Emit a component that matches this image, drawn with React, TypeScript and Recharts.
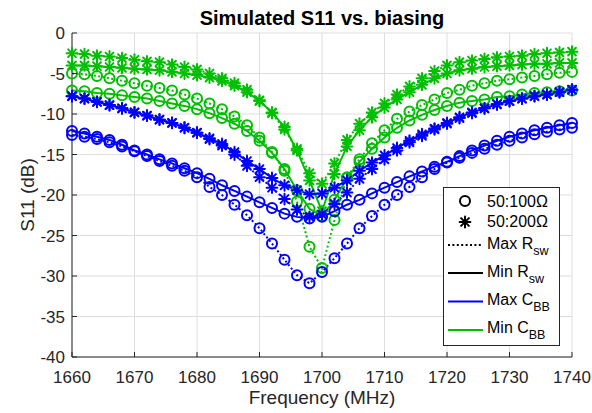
import React from "react";
import {
  LineChart,
  Line,
  XAxis,
  YAxis,
  CartesianGrid,
  Legend,
  Label
} from "recharts";

// frequency sweep, 2 MHz steps
const FREQ = [
  1660, 1662, 1664, 1666, 1668, 1670, 1672, 1674, 1676, 1678,
  1680, 1682, 1684, 1686, 1688, 1690, 1692, 1694, 1696, 1698,
  1700, 1702, 1704, 1706, 1708, 1710, 1712, 1714, 1716, 1718,
  1720, 1722, 1724, 1726, 1728, 1730, 1732, 1734, 1736, 1738, 1740
];

// S11 (dB) per biasing case
// green = min C_BB, blue = max C_BB; dotted = max R_sw, solid = min R_sw
const G200_MAX = [
  -2.5, -2.6, -2.8, -2.9, -3.1, -3.3, -3.5, -3.6, -3.9, -4.2,
  -4.5, -5.0, -5.6, -6.2, -7.0, -8.3, -9.9, -11.9, -14.3, -17.3,
  -18.6, -16.1, -13.2, -11.2, -9.8, -8.7, -7.6, -6.6, -5.6, -4.7,
  -4.0, -3.6, -3.4, -3.2, -3.0, -2.9, -2.8, -2.6, -2.5, -2.4, -2.3
];
const G200_MIN = [
  -4.0, -4.0, -4.1, -4.2, -4.3, -4.4, -4.5, -4.6, -4.8, -5.0,
  -5.2, -5.5, -5.9, -6.5, -7.3, -8.4, -9.8, -11.6, -14.5, -18.2,
  -22.0, -17.4, -14.0, -12.0, -10.4, -9.2, -8.2, -7.3, -6.4, -5.6,
  -5.0, -4.6, -4.4, -4.2, -4.1, -4.0, -3.9, -3.8, -3.8, -3.7, -3.7
];
const G100_MAX = [
  -5.0, -5.1, -5.3, -5.6, -5.9, -6.2, -6.5, -6.8, -7.1, -7.6,
  -8.1, -8.7, -9.4, -10.3, -11.4, -12.9, -14.7, -17.0, -20.8, -26.4,
  -29.0, -23.1, -17.8, -15.6, -13.6, -12.0, -10.6, -9.7, -8.9, -8.2,
  -7.4, -7.0, -6.5, -6.2, -5.9, -5.7, -5.5, -5.3, -5.1, -4.9, -4.8
];
const G100_MIN = [
  -7.1, -7.2, -7.4, -7.5, -7.7, -7.9, -8.1, -8.4, -8.7, -9.0,
  -9.4, -9.9, -10.5, -11.2, -12.1, -13.3, -14.8, -16.8, -19.4, -21.7,
  -22.6, -20.6, -17.9, -15.9, -14.3, -12.9, -11.7, -10.8, -10.1, -9.5,
  -9.0, -8.6, -8.4, -8.2, -7.9, -7.8, -7.6, -7.4, -7.3, -7.2, -7.1
];
const B200_MAX = [
  -7.8, -8.1, -8.5, -8.9, -9.3, -9.8, -10.2, -10.7, -11.1, -11.7,
  -12.3, -13.1, -13.9, -15.0, -16.4, -17.8, -19.1, -20.5, -21.8, -22.7,
  -22.4, -21.1, -19.7, -18.0, -16.8, -15.6, -14.5, -13.5, -12.7, -11.9,
  -11.2, -10.5, -9.9, -9.3, -8.8, -8.4, -8.1, -7.8, -7.6, -7.3, -7.0
];
const B200_MIN = [
  -7.8, -8.1, -8.5, -8.9, -9.3, -9.8, -10.2, -10.7, -11.1, -11.7,
  -12.3, -13.0, -13.7, -14.7, -15.8, -16.8, -17.9, -18.8, -19.4, -19.9,
  -19.8, -19.1, -18.2, -17.0, -16.0, -15.1, -14.2, -13.3, -12.5, -11.8,
  -11.1, -10.4, -9.8, -9.3, -8.8, -8.4, -8.1, -7.8, -7.6, -7.3, -7.0
];
const B100_MAX = [
  -12.6, -12.8, -13.1, -13.5, -14.0, -14.6, -15.2, -15.8, -16.4, -17.0,
  -17.8, -19.0, -20.0, -21.2, -22.5, -24.1, -26.0, -28.0, -29.9, -30.9,
  -29.5, -27.8, -26.0, -24.1, -22.6, -21.2, -20.0, -19.0, -17.8, -16.8,
  -16.0, -15.4, -14.8, -14.3, -13.8, -13.3, -12.9, -12.5, -12.2, -11.9, -11.7
];
const B100_MIN = [
  -12.1, -12.4, -12.8, -13.2, -13.8, -14.5, -15.0, -15.6, -16.1, -16.7,
  -17.3, -18.0, -18.8, -19.5, -20.2, -20.9, -21.6, -22.3, -22.7, -22.9,
  -22.7, -22.0, -21.2, -20.6, -19.8, -19.1, -18.4, -17.7, -17.1, -16.5,
  -15.9, -15.2, -14.5, -13.9, -13.3, -12.8, -12.4, -12.0, -11.7, -11.4, -11.1
];

const X_TICKS = [1660, 1670, 1680, 1690, 1700, 1710, 1720, 1730, 1740];
const Y_TICKS = [-40, -35, -30, -25, -20, -15, -10, -5, 0];

const TITLE = "Simulated S11 vs. biasing";

const GREEN = "#00bf00";
const BLUE = "#0000ff";
const INK = "#262626";
const FONT = '"Liberation Sans", Arial, Helvetica, sans-serif';

const rows = FREQ.map((f, i) => ({
  f,
  g200Max: G200_MAX[i],
  g200Min: G200_MIN[i],
  g100Max: G100_MAX[i],
  g100Min: G100_MIN[i],
  b200Max: B200_MAX[i],
  b200Min: B200_MIN[i],
  b100Max: B100_MAX[i],
  b100Min: B100_MIN[i]
}));

type Marker = "o" | "*";

// greens first so the blue curves sit on top
const SERIES: { key: string; color: string; dotted: boolean; marker: Marker }[] = [
  { key: "g100Min", color: GREEN, dotted: false, marker: "o" },
  { key: "g100Max", color: GREEN, dotted: true, marker: "o" },
  { key: "g200Min", color: GREEN, dotted: false, marker: "*" },
  { key: "g200Max", color: GREEN, dotted: true, marker: "*" },
  { key: "b100Min", color: BLUE, dotted: false, marker: "o" },
  { key: "b100Max", color: BLUE, dotted: true, marker: "o" },
  { key: "b200Min", color: BLUE, dotted: false, marker: "*" },
  { key: "b200Max", color: BLUE, dotted: true, marker: "*" }
];

const DOTTED = "2 2.4";

function MarkerGlyph({ cx, cy, color, marker }: { cx: number; cy: number; color: string; marker: Marker }) {
  if (marker === "o") {
    return <circle cx={cx} cy={cy} r={5} fill="none" stroke={color} strokeWidth={2} />;
  }
  const s = 5.4;
  const d = s * 0.72;
  return (
    <g stroke={color} strokeWidth={2} strokeLinecap="round">
      <line x1={cx - s} y1={cy} x2={cx + s} y2={cy} />
      <line x1={cx} y1={cy - s} x2={cx} y2={cy + s} />
      <line x1={cx - d} y1={cy - d} x2={cx + d} y2={cy + d} />
      <line x1={cx - d} y1={cy + d} x2={cx + d} y2={cy - d} />
    </g>
  );
}

/* ---- inward MATLAB-style ticks ---- */
const BottomTick = ({ x, y, payload }: any) => (
  <g>
    <line x1={x} x2={x} y1={y} y2={y - 5} stroke={INK} />
    <text x={x} y={y + 26} textAnchor="middle" fill={INK} fontSize={17}>
      {payload.value}
    </text>
  </g>
);
const TopTick = ({ x, y }: any) => <line x1={x} x2={x} y1={y} y2={y + 5} stroke={INK} />;
const LeftTick = ({ x, y, payload }: any) => (
  <g>
    <line x1={x} x2={x + 5} y1={y} y2={y} stroke={INK} />
    <text x={x - 7} y={y + 6} textAnchor="end" fill={INK} fontSize={17}>
      {payload.value}
    </text>
  </g>
);
const RightTick = ({ x, y }: any) => <line x1={x} x2={x - 5} y1={y} y2={y} stroke={INK} />;

function LegendBox() {
  const lineX1 = 5;
  const lineX2 = 40;
  const textX = 44;
  const sub = (label: string, main: string, y: number) => (
    <text x={textX} y={y} fontSize={16} fill="#000">
      {main}
      <tspan dy={6} fontSize={12.5}>{label}</tspan>
    </text>
  );
  return (
    <svg width={117} height={159} style={{ display: "block", fontFamily: FONT }}>
      <rect x={0.5} y={0.5} width={116} height={158} fill="#fff" stroke={INK} />
      <MarkerGlyph cx={22} cy={14} color="#000" marker="o" />
      <text x={textX} y={20} fontSize={16} fill="#000">50:100Ω</text>
      <MarkerGlyph cx={22} cy={35} color="#000" marker="*" />
      <text x={textX} y={40} fontSize={16} fill="#000">50:200Ω</text>

      <line x1={lineX1} x2={lineX2} y1={58} y2={58} stroke="#000" strokeWidth={2} strokeDasharray={DOTTED} />
      {sub("sw", "Max R", 62)}
      <line x1={lineX1} x2={lineX2} y1={86} y2={86} stroke="#000" strokeWidth={2} />
      {sub("sw", "Min R", 90)}
      <line x1={lineX1} x2={lineX2} y1={114.5} y2={114.5} stroke={BLUE} strokeWidth={2} />
      {sub("BB", "Max C", 118)}
      <line x1={lineX1} x2={lineX2} y1={143} y2={143} stroke={GREEN} strokeWidth={2} />
      {sub("BB", "Min C", 146)}
    </svg>
  );
}

export default function App() {
  return (
    <div style={{ position: "relative", width: 592, height: 413, background: "#fff", fontFamily: FONT }}>
      <style>{"body{margin:0}"}</style>
      <LineChart
        width={592}
        height={413}
        data={rows}
        margin={{ top: 33, right: 20, bottom: 0, left: 0 }}
        style={{ fontFamily: FONT }}
      >
        <CartesianGrid stroke="#dedede" />

        <XAxis
          dataKey="f"
          type="number"
          domain={[1660, 1740]}
          ticks={X_TICKS}
          interval={0}
          height={56}
          tickSize={0}
          tickMargin={0}
          tickLine={false}
          tick={BottomTick}
          axisLine={{ stroke: INK }}
        >
          <Label
            value="Frequency (MHz)"
            position="insideBottom"
            offset={9}
            fontSize={19}
            fill={INK}
          />
        </XAxis>
        <XAxis
          xAxisId="top"
          orientation="top"
          type="number"
          domain={[1660, 1740]}
          ticks={X_TICKS}
          interval={0}
          height={0}
          tickSize={0}
          tickMargin={0}
          tickLine={false}
          tick={TopTick}
          axisLine={{ stroke: INK }}
        />

        <YAxis
          type="number"
          domain={[-40, 0]}
          ticks={Y_TICKS}
          interval={0}
          width={72}
          tickSize={0}
          tickMargin={0}
          tickLine={false}
          tick={LeftTick}
          axisLine={{ stroke: INK }}
        >
          <Label
            value="S11 (dB)"
            angle={-90}
            position="insideLeft"
            offset={27}
            fontSize={19}
            fill={INK}
            style={{ textAnchor: "middle" }}
          />
        </YAxis>
        <YAxis
          yAxisId="right"
          orientation="right"
          type="number"
          domain={[-40, 0]}
          ticks={Y_TICKS}
          interval={0}
          width={0}
          tickSize={0}
          tickMargin={0}
          tickLine={false}
          tick={RightTick}
          axisLine={{ stroke: INK }}
        />

        {SERIES.map((s) => (
          <Line
            key={s.key}
            dataKey={s.key}
            type="linear"
            stroke={s.color}
            strokeWidth={2}
            strokeDasharray={s.dotted ? DOTTED : undefined}
            dot={(p: any) =>
              p.cx == null ? (
                <g key={`${s.key}-${p.index}`} />
              ) : (
                <g key={`${s.key}-${p.index}`}>
                  <MarkerGlyph cx={p.cx} cy={p.cy} color={s.color} marker={s.marker} />
                </g>
              )
            }
            activeDot={false}
            legendType="none"
            isAnimationActive={false}
          />
        ))}

        <Legend
          layout="vertical"
          align="center"
          verticalAlign="middle"
          wrapperStyle={{ left: 443, top: 187, width: 117, height: 159 }}
          content={() => <LegendBox />}
        />
      </LineChart>

      {/* plot title, centred over the axes box */}
      <svg
        width={592}
        height={33}
        style={{ position: "absolute", left: 0, top: 0, pointerEvents: "none" }}
      >
        <text
          x={322}
          y={25}
          textAnchor="middle"
          fontSize={20}
          fontWeight="bold"
          fill="#000"
          style={{ fontFamily: FONT }}
        >
          {TITLE}
        </text>
      </svg>
    </div>
  );
}
